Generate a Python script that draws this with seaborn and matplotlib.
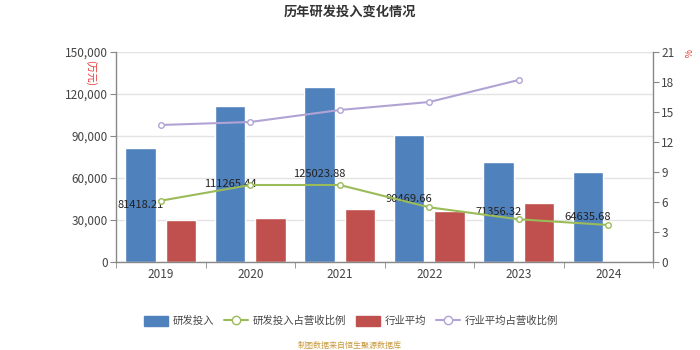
import matplotlib
matplotlib.use("Agg")
import matplotlib.pyplot as plt
import seaborn as sns
import pandas as pd
import numpy as np
from matplotlib.lines import Line2D
from matplotlib.patches import Patch

years = ["2019", "2020", "2021", "2022", "2023", "2024"]
rd_invest = [81418.21, 111265.44, 125023.88, 90469.66, 71356.32, 64635.68]
industry_avg = [30100, 31300, 37800, 36400, 42500, np.nan]
rd_ratio = [6.13, 7.7, 7.7, 5.47, 4.27, 3.7]
industry_ratio = [13.7, 14.0, 15.2, 16.0, 18.2, np.nan]
left_ticks = [0, 30000, 60000, 90000, 120000, 150000]
right_ticks = [0, 3, 6, 9, 12, 15, 18, 21]

C_BLUE = "#4f81bd"
C_RED = "#c0504d"
C_GREEN = "#9bbb59"
C_PURPLE = "#b1a3d4"
TXT = "#444444"

sns.set_style("white")
plt.rcParams["font.family"] = ["Noto Sans CJK SC", "DejaVu Sans"]

df = pd.DataFrame({
    "year": years * 2,
    "series": ["研发投入"] * 6 + ["行业平均"] * 6,
    "value": rd_invest + industry_avg,
})

fig = plt.figure(figsize=(7, 3.5), dpi=100)
ax = fig.add_axes([116 / 700, 1 - 262 / 350, 537 / 700, 210 / 350])

sns.barplot(data=df, x="year", y="value", hue="series",
            hue_order=["研发投入", "行业平均"], order=years,
            palette=[C_BLUE, C_RED], width=0.9, gap=0.24,
            legend=False, ax=ax, saturation=1, err_kws={"linewidth": 0})

ax.set_ylim(0, 150000)
ax.set_yticks(left_ticks)
ax.set_yticklabels([f"{t:,}" for t in left_ticks])
ax.set_xlim(-0.5, 5.5)
ax.set_xlabel("")
ax.set_ylabel("")
ax.yaxis.grid(True, color="#e3e3e3", linewidth=1)
ax.set_axisbelow(True)

# labels in middle of blue bars
for patch, v in zip(ax.containers[0], rd_invest):
    cx = patch.get_x() + patch.get_width() / 2
    ax.text(cx, patch.get_height() / 2, f"{v:.2f}", ha="center", va="center",
            fontsize=8, color="#222222", zorder=10)

ax2 = ax.twinx()
pos = np.arange(len(years))
sns.lineplot(x=pos, y=rd_ratio, ax=ax2, color=C_GREEN, linewidth=1.5,
             marker="o", markersize=4, markerfacecolor="white",
             markeredgecolor=C_GREEN, markeredgewidth=1)
sns.lineplot(x=pos, y=industry_ratio, ax=ax2, color=C_PURPLE, linewidth=1.5,
             marker="o", markersize=4, markerfacecolor="white",
             markeredgecolor=C_PURPLE, markeredgewidth=1)
ax2.set_ylim(0, 21)
ax2.set_yticks(right_ticks)
ax2.set_xlim(-0.5, 5.5)
ax2.set_ylabel("")

for a in (ax, ax2):
    a.spines["top"].set_visible(False)
    for s in ("left", "right", "bottom"):
        a.spines[s].set_color("#888888")
        a.spines[s].set_linewidth(1)

ax.spines["right"].set_visible(False)
ax2.spines["left"].set_visible(False)
ax2.spines["bottom"].set_visible(False)

ax.tick_params(axis="y", direction="out", length=4, color="#888888",
               labelsize=8.5, labelcolor=TXT, left=True, pad=2)
ax2.tick_params(axis="y", direction="out", length=4, color="#888888",
                labelsize=8.5, labelcolor=TXT, right=True, pad=2)
ax.tick_params(axis="x", which="major", length=0, labelsize=8.5,
               labelcolor=TXT, pad=4)
ax.set_xticks(np.arange(-0.5, 6, 1), minor=True)
ax.tick_params(axis="x", which="minor", direction="out", length=4,
               color="#888888", bottom=True)

fig.text(0.5, 1 - 12 / 350, "历年研发投入变化情况", ha="center", va="center",
         fontsize=9.5, fontweight="bold", color="#333333")
fig.text(91 / 700, 1 - 73 / 350, "(万元)", ha="center", va="center",
         rotation=-90, fontsize=7, color="#e83030")
fig.text(686 / 700, 1 - 53 / 350, "%", ha="center", va="center",
         rotation=-90, fontsize=6.5, color="#e83030")

handles = [
    Patch(facecolor=C_BLUE, edgecolor=C_BLUE),
    Line2D([0], [0], color=C_GREEN, lw=1.5, marker="o", markersize=6,
           markerfacecolor="white", markeredgecolor=C_GREEN),
    Patch(facecolor=C_RED, edgecolor=C_RED),
    Line2D([0], [0], color=C_PURPLE, lw=1.5, marker="o", markersize=6,
           markerfacecolor="white", markeredgecolor=C_PURPLE),
]
labels = ["研发投入", "研发投入占营收比例", "行业平均", "行业平均占营收比例"]
fig.legend(handles, labels, loc="center", bbox_to_anchor=(351 / 700, 1 - 321 / 350),
           ncol=4, frameon=False, fontsize=7.5, handlelength=2.3, handleheight=1.1,
           columnspacing=1.0, handletextpad=0.4, labelcolor=TXT)

fig.text(350 / 700, 1 - 345 / 350, "制图数据来自恒生聚源数据库", ha="center",
         va="center", fontsize=5.8, color="#c89a40")

fig.savefig("out.png", dpi=100)
